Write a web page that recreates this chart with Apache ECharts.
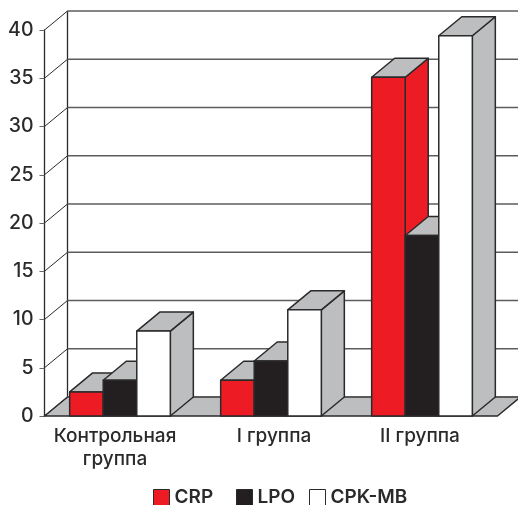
<!DOCTYPE html>
<html>
<head>
<meta charset="utf-8">
<style>
  html, body { margin: 0; padding: 0; background: #fff; }
  #chart { width: 518px; height: 505px; }
</style>
<script src="https://cdn.jsdelivr.net/npm/echarts@6/dist/echarts.min.js"></script>
</head>
<body>
<div id="chart"></div>
<script>
// данные
const categories = ['Контрольная\nгруппа', 'I группа', 'II группа'];
const crpValues = [2.5, 3.7, 35.1];
const lpoValues = [3.7, 5.7, 18.7];
const cpkValues = [8.8, 11, 39.4];
const yTicks = [0, 5, 10, 15, 20, 25, 30, 35, 40];

// псевдо-3D
const depthX = 23;
const depthY = -19;
const edge = '#2b2a2b';
const gray = '#bcbec0';
const fontName = 'Inter, "Liberation Sans", sans-serif';

// подписи в оригинале стоят не точно по центру группы
const labelPadding = [[0, 10, 0, 0], [0, 0, 0, 6], [0, 4, 0, 0]];

function poly(points, fill, stroke) {
  return {
    type: 'polygon',
    shape: { points: points },
    style: { fill: fill, stroke: stroke || edge, lineWidth: 1.5, lineJoin: 'round' }
  };
}

function line(x1, y1, x2, y2, color, width) {
  return {
    type: 'line',
    shape: { x1: x1, y1: y1, x2: x2, y2: y2 },
    style: { stroke: color, lineWidth: width }
  };
}

// пол и задняя стенка
function renderFloor(params, api) {
  const box = params.coordSys;
  const y0 = api.coord([0, 0])[1];
  const yTop = api.coord([0, 40])[1];
  const x0 = box.x, x1 = box.x + box.width;
  return {
    type: 'group',
    children: [
      poly([[x0, y0], [x1, y0], [x1 + depthX, y0 + depthY], [x0 + depthX, y0 + depthY]], gray),
      line(x0 + depthX, yTop + depthY, x0 + depthX, y0 + depthY, edge, 1.3)
    ]
  };
}

function renderWall(params, api) {
  const box = params.coordSys;
  const y = api.coord([0, api.value(1)])[1];
  const x0 = box.x;
  return {
    type: 'group',
    children: [
      line(x0, y, x0 + depthX, y + depthY, edge, 1),
      line(x0 + depthX, y + depthY, x0 + box.width + depthX, y + depthY, '#5c5c5c', 1.6)
    ]
  };
}

// столбик: передняя грань, верх, бок
function barRenderer(slot, sideColor) {
  return function (params, api) {
    const top = api.coord([api.value(0), api.value(1)]);
    const base = api.coord([api.value(0), 0]);
    const w = api.size([1, 0])[0] * 0.2222;
    const left = top[0] + (slot - 1.5) * w;
    const right = left + w;
    const fill = api.visual('color');
    return {
      type: 'group',
      children: [
        poly([[right, top[1]], [right + depthX, top[1] + depthY], [right + depthX, base[1] + depthY], [right, base[1]]], sideColor),
        poly([[left, top[1]], [left + depthX, top[1] + depthY], [right + depthX, top[1] + depthY], [right, top[1]]], gray),
        poly([[left, top[1]], [right, top[1]], [right, base[1]], [left, base[1]]], fill)
      ]
    };
  };
}

function toItems(values) {
  return values.map((v, i) => [i, v]);
}

function legendFor(name, left) {
  return {
    left: left,
    top: 488,
    padding: 0,
    itemWidth: 16,
    itemHeight: 16,
    icon: 'rect',
    selectedMode: false,
    data: [name],
    itemStyle: { borderColor: edge, borderWidth: 1 },
    textStyle: {
      color: '#2b2a2b',
      fontFamily: fontName,
      fontWeight: 600,
      fontSize: 19,
      lineHeight: 16
    }
  };
}

const chart = echarts.init(document.getElementById('chart'));
chart.setOption({
  animation: false,
  backgroundColor: '#fff',
  grid: { left: 44.5, top: 30, width: 453, height: 386, containLabel: false },
  xAxis: {
    type: 'category',
    data: categories.map((name, i) => ({ value: name, textStyle: { padding: labelPadding[i] } })),
    axisTick: { show: false },
    axisLine: { show: false },
    axisLabel: {
      interval: 0,
      margin: 9,
      color: '#2b2a2b',
      fontFamily: fontName,
      fontWeight: 500,
      fontSize: 19,
      lineHeight: 23
    }
  },
  yAxis: {
    type: 'value',
    min: 0,
    max: 40,
    interval: 5,
    splitLine: { show: false },
    axisLine: { show: true, lineStyle: { color: edge, width: 1.3 } },
    axisTick: { show: true, length: 5, lineStyle: { color: '#666', width: 1 } },
    axisLabel: {
      margin: 11,
      color: '#2b2a2b',
      fontFamily: fontName,
      fontWeight: 500,
      fontSize: 19.5
    }
  },
  legend: [legendFor('CRP', 153), legendFor('LPO', 236), legendFor('CPK-MB', 309)],
  series: [
    { type: 'custom', name: 'room', silent: true, renderItem: renderFloor, data: [[0, 0]], z: 1 },
    { type: 'custom', name: 'wall', silent: true, renderItem: renderWall, data: yTicks.map(v => [0, v]), z: 1 },
    { type: 'custom', name: 'CRP', renderItem: barRenderer(0, '#ed1c24'), data: toItems(crpValues), itemStyle: { color: '#ed1c24' }, z: 3 },
    { type: 'custom', name: 'LPO', renderItem: barRenderer(1, '#231f20'), data: toItems(lpoValues), itemStyle: { color: '#231f20' }, z: 4 },
    { type: 'custom', name: 'CPK-MB', renderItem: barRenderer(2, gray), data: toItems(cpkValues), itemStyle: { color: '#ffffff' }, z: 5 }
  ]
});
</script>
</body>
</html>
